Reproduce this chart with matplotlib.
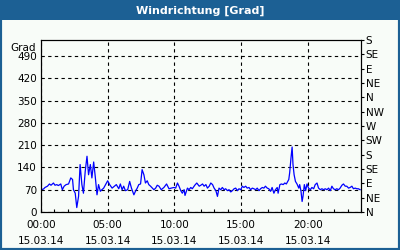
import numpy as np
from matplotlib import pyplot as plt
from matplotlib.patches import Rectangle

# minutes after midnight (15.03.14) and wind direction in degrees
minutes = [0, 11, 18, 29, 38, 45, 56, 63, 71, 78, 89, 96, 104, 113, 124, 134, 142, 146, 154, 161,
           169, 176, 184, 191, 199, 207, 214, 222, 229, 237, 244, 252, 259, 267, 274, 282, 289, 300,
           309, 320, 330, 339, 350, 357, 365, 372, 380, 390, 399, 407, 418, 425, 433, 440, 448, 455,
           463, 470, 478, 485, 493, 508, 516, 523, 531, 541, 553, 565, 576, 586, 598, 606, 614, 621,
           629, 636, 644, 648, 659, 666, 674, 681, 692, 701, 712, 719,
           727, 734, 742, 749, 757, 764, 772, 779, 787, 794, 801, 809, 816, 824, 831, 839, 846, 854,
           861, 869, 876, 884, 891, 899, 906, 913, 921, 928, 936, 943, 951, 958, 966, 973, 981, 988,
           996, 1003, 1010, 1018, 1025, 1033, 1040, 1048, 1055, 1063, 1067, 1075, 1082, 1090, 1097,
           1104, 1110, 1115, 1119, 1125, 1130, 1134, 1139, 1145, 1152, 1160, 1164, 1170, 1175, 1179,
           1185, 1191, 1197, 1204, 1212, 1219, 1227, 1234, 1242, 1249, 1257, 1264, 1272, 1279, 1287,
           1294, 1302, 1309, 1316, 1324, 1331, 1339, 1346, 1354, 1361, 1369, 1376, 1384, 1391, 1399,
           1406, 1414, 1421, 1428, 1436]
grad = [70, 72, 77, 81, 88, 84, 91, 84, 86, 83, 88, 70, 81, 86, 88, 107, 102, 70, 59, 14,
        49, 149, 86, 59, 128, 175, 117, 149, 107, 157, 112, 54, 86, 65, 70, 75, 84, 98,
        86, 75, 81, 86, 73, 88, 70, 81, 67, 70, 96, 75, 54, 65, 75, 86, 88, 133,
        117, 91, 98, 86, 81, 70, 75, 84, 81, 70, 77, 88, 73, 75, 77, 75, 91, 81,
        67, 59, 70, 52, 75, 70, 77, 73, 84, 91, 81, 84,
        88, 81, 86, 75, 81, 91, 86, 75, 67, 49, 75, 70, 77, 70, 73, 67, 70, 63,
        67, 73, 75, 67, 73, 70, 81, 77, 81, 75, 77, 70, 75, 73, 70, 75, 67, 73,
        77, 75, 81, 75, 73, 65, 77, 59, 70, 77, 59, 86, 88, 86, 91,
        88, 96, 102, 123, 170, 204, 149, 117, 96, 88, 75, 86, 65, 33, 49,
        86, 67, 88, 75, 70, 77, 73, 86, 91, 75, 70, 73, 70, 73, 70,
        75, 67, 81, 73, 70, 73, 70, 75, 84, 88, 81, 81, 75, 77, 81,
        73, 75, 73, 73, 70]

y_ticks = [0, 70, 140, 210, 280, 350, 420, 490]
dir_labels = ['N', 'NE', 'E', 'SE', 'S', 'SW', 'W', 'NW', 'N', 'NE', 'E', 'SE', 'S']
x_hours = [0, 5, 10, 15, 20]
date_label = '15.03.14'

blue = '#1c6094'
bg = '#f8fcf8'
fs = 7.5

fig = plt.figure(figsize=(4, 2.5), dpi=100, facecolor=bg)
fig.patches.append(Rectangle((0, 0), 1, 1, transform=fig.transFigure, fill=False,
                             edgecolor=blue, linewidth=3, zorder=0))
fig.patches.append(Rectangle((0, 0.92), 1, 0.08, transform=fig.transFigure,
                             facecolor=blue, edgecolor='none', zorder=0))
fig.text(0.5, 0.958, 'Windrichtung [Grad]', color='white', fontsize=8, fontweight='bold',
         ha='center', va='center')

ax = fig.add_axes([0.1025, 0.152, 0.8, 0.688])
ax.set_facecolor(bg)
hours = np.array(minutes) / 60.0
ax.plot(hours, grad, color='#0000ff', linewidth=0.9)

ax.set_xlim(0, 24)
ax.set_ylim(0, 540)
ax.set_yticks(y_ticks)
ax.set_yticklabels([str(v) for v in y_ticks], fontsize=fs)
ax.set_xticks(x_hours)
ax.set_xticklabels([f'{h:02d}:00\n{date_label}' for h in x_hours], fontsize=fs, linespacing=1.7)
ax.set_xticks(range(0, 25), minor=True)
ax.tick_params(axis='x', which='both', direction='in', length=2.5, width=0.8, pad=6)
ax.tick_params(axis='y', length=0, pad=3)
ax.grid(True, color='black', linestyle=(0, (3, 3)), linewidth=0.8)
for s in ax.spines.values():
    s.set_linewidth(0.8)
ax.text(-0.015, 0.985, 'Grad', transform=ax.transAxes, ha='right', va='top', fontsize=fs)

ax2 = ax.twinx()
ax2.set_ylim(0, 540)
ax2.set_yticks(range(0, 541, 45))
ax2.set_yticklabels(dir_labels, fontsize=fs)
ax2.tick_params(axis='y', direction='out', length=2.5, width=0.8, pad=1)
for s in ax2.spines.values():
    s.set_linewidth(0.8)

fig.savefig('out.png', dpi=100, facecolor=bg)
